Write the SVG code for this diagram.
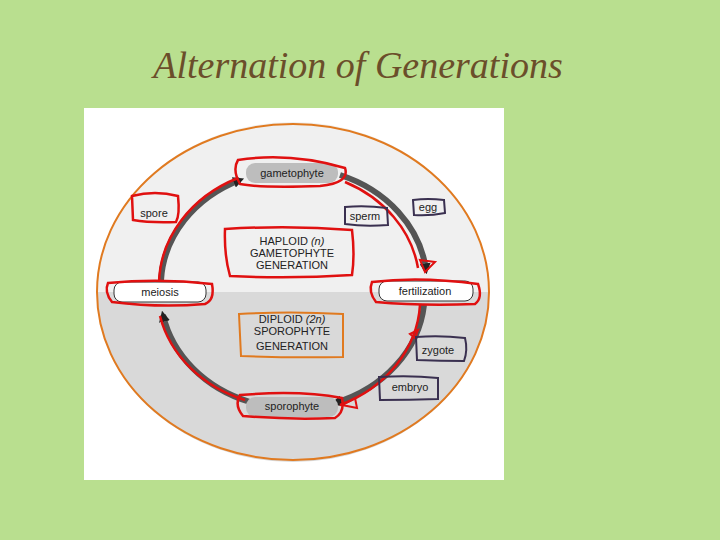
<svg xmlns="http://www.w3.org/2000/svg" width="720" height="540" viewBox="0 0 720 540">
<defs>
<style>
.t{font-family:"Liberation Sans",Arial,sans-serif;font-size:11px;fill:#222;text-anchor:middle}
.red{fill:none;stroke:#e01010;stroke-width:2.5}
.nav{fill:none;stroke:#3a3050;stroke-width:2}
.pill{fill:#bdbdbd}
.wpill{fill:#fff;stroke:#333;stroke-width:1}
</style>
<marker id="ah" viewBox="0 0 10 10" refX="6" refY="5" markerWidth="11" markerHeight="11" markerUnits="userSpaceOnUse" orient="auto"><path d="M0,0L10,5L0,10z" fill="#222"/></marker>
<clipPath id="c"><ellipse cx="293" cy="292" rx="196" ry="170"/></clipPath>
</defs>
<rect width="720" height="540" fill="#b9df8f"/>
<text x="358" y="78" font-family="Liberation Serif,serif" font-style="italic" font-size="38" fill="#6b4e2a" text-anchor="middle">Alternation of Generations</text>
<rect x="84" y="108" width="420" height="372" fill="#fff"/>
<g clip-path="url(#c)">
<rect x="84" y="108" width="420" height="184" fill="#f0f0f0"/>
<rect x="84" y="292" width="420" height="190" fill="#d9d9d9"/>
</g>
<ellipse cx="293" cy="292" rx="196" ry="168" fill="none" stroke="#e07a20" stroke-width="2"/>
<g id="connectors">
<path d="M161,280 A133,116 0 0 1 240,180" fill="none" stroke="#555" stroke-width="6" marker-end="url(#ah)"/>
<path d="M340,175 A133,116 0 0 1 426,270" fill="none" stroke="#555" stroke-width="6" marker-end="url(#ah)"/>
<path d="M424,305 A133,116 0 0 1 335,403" fill="none" stroke="#555" stroke-width="6" marker-end="url(#ah)"/>
<path d="M250,402 A133,116 0 0 1 163,315" fill="none" stroke="#555" stroke-width="6" marker-end="url(#ah)"/>
<path d="M159,283 A135,118 0 0 1 238,178" class="red"/>
<path d="M345,182 A130,114 0 0 1 418,268" class="red"/>
<path d="M420,305 A133,116 0 0 1 340,405" class="red"/>
<path d="M245,400 A133,116 0 0 1 160,316" class="red"/>
<path d="M420,260 L435,262 L425,272z M342,405 L355,398 L357,408z M410,334 L418,330 L415,338z" fill="none" stroke="#e01010" stroke-width="2"/>
</g>
<g id="gametophyte"><rect x="246" y="163" width="92" height="20" rx="9" class="pill"/><path d="M238,160 Q290,152 345,168 Q350,183 320,186 Q260,188 240,184 Q232,170 238,160z" class="red"/><text x="292" y="177" class="t">gametophyte</text></g>
<g id="spore"><path d="M132,196 Q155,190 178,196 Q180,215 176,222 Q150,223 133,220z" class="red"/><text x="154" y="217" class="t">spore</text></g>
<g id="sperm"><path d="M345,207 Q365,205 387,208 L388,225 Q365,227 345,224z" class="nav"/><text x="365" y="220" class="t">sperm</text></g>
<g id="egg"><path d="M413,200 Q428,198 444,200 L445,213 Q430,216 414,215z" class="nav"/><text x="428" y="211" class="t">egg</text></g>
<g id="haploid"><path d="M225,229 Q290,225 352,230 Q355,255 352,275 Q290,279 230,276 Q224,255 225,229z" class="red"/><text x="292" y="245" class="t">HAPLOID <tspan font-style="italic">(n)</tspan></text><text x="292" y="257" class="t">GAMETOPHYTE</text><text x="292" y="269" class="t">GENERATION</text></g>
<g id="meiosis"><rect x="114" y="282" width="92" height="20" rx="8" class="wpill"/><path d="M108,283 Q160,278 212,284 Q215,300 205,304 Q160,308 112,302 Q104,292 108,283z" class="red"/><text x="160" y="296" class="t">meiosis</text></g>
<g id="fertilization"><rect x="379" y="281" width="94" height="20" rx="8" class="wpill"/><path d="M372,282 Q420,276 478,284 Q483,298 475,304 Q420,306 376,302 Q368,292 372,282z" class="red"/><text x="425" y="295" class="t">fertilization</text></g>
<g id="diploid"><path d="M239,314 Q290,311 343,314 L343,357 Q290,358 241,356z" fill="none" stroke="#e07a20" stroke-width="2"/><text x="292" y="323" class="t">DIPLOID <tspan font-style="italic">(2n)</tspan></text><text x="292" y="335" class="t">SPOROPHYTE</text><text x="292" y="350" class="t">GENERATION</text></g>
<g id="zygote"><path d="M416,337 Q440,335 465,338 Q468,350 464,361 Q440,361 417,360z" class="nav"/><text x="438" y="354" class="t">zygote</text></g>
<g id="embryo"><path d="M379,377 Q410,375 438,378 L438,399 Q410,400 380,400z" class="nav"/><text x="410" y="391" class="t">embryo</text></g>
<g id="sporophyte"><rect x="246" y="397" width="92" height="20" rx="9" class="pill"/><path d="M240,395 Q300,390 342,398 Q345,412 335,418 Q290,420 243,416 Q234,405 240,395z" class="red"/><text x="292" y="410" class="t">sporophyte</text></g>
</svg>
